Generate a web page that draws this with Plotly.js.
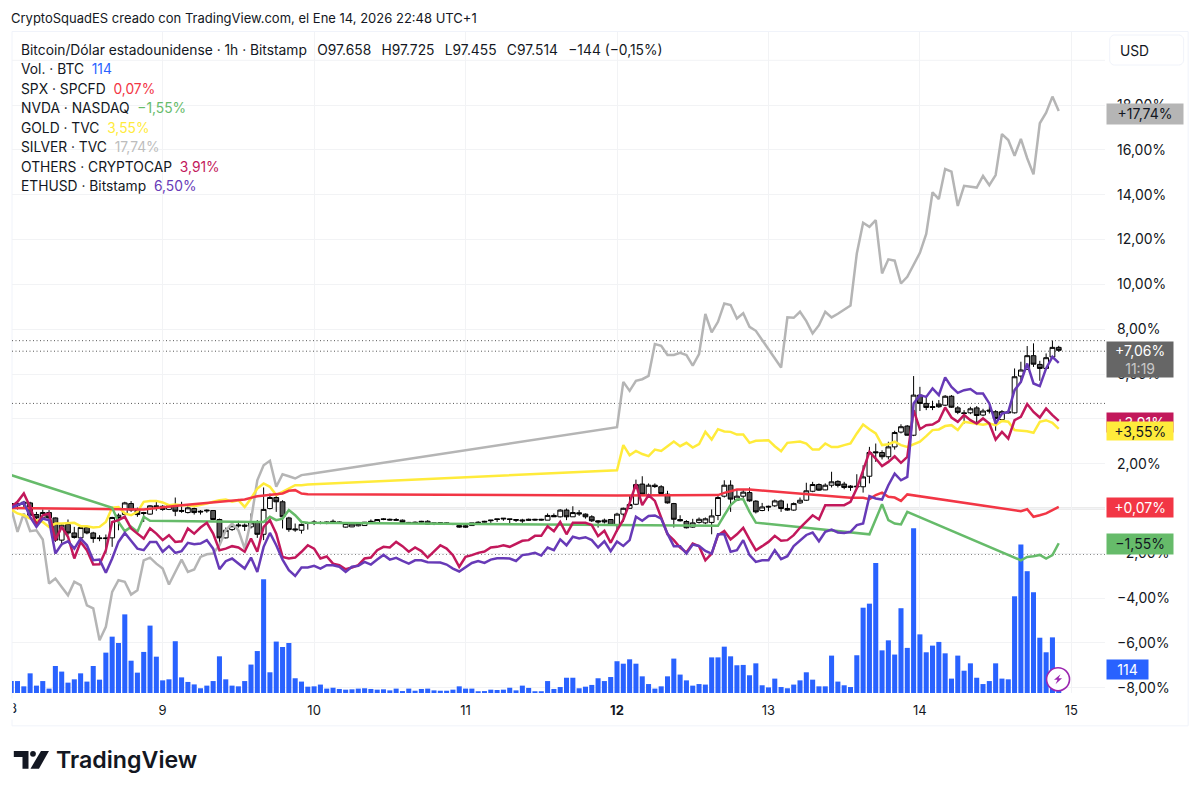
<!DOCTYPE html>
<html><head><meta charset="utf-8">
<script src="https://cdn.plot.ly/plotly-3.0.1.min.js"></script>
<style>html,body{margin:0;padding:0;background:#fff}#c{width:1200px;height:795px}</style>
</head><body><div id="c"></div>
<script>
function seq(a,b){var r=[];for(var i=a;i<=b;i++)r.push(i);return r;}

const dayTicks=[0,24,48,72,96,120,144,168];
const dayLabels=['8','9','10','11','<b>12</b>','13','14','15'];
const pctTicks=[-8,-6,-4,-2,0,2,4,6,8,10,12,14,16,18];
const pctLabels=['−8,00%','−6,00%','−4,00%','−2,00%','','2,00%','4,00%','6,00%','8,00%','10,00%','12,00%','14,00%','16,00%','18,00%'];
const candleHours=seq(0,166);
const volume=[68,68,38,112,42,68,25,154,122,59,78,112,65,154,76,230,321,285,448,184,116,234,384,207,72,78,295,89,63,49,27,42,68,209,78,42,38,68,162,239,648,118,293,262,285,84,65,36,38,
48,25,30,23,19,21,25,27,23,19,21,15,25,11,25,13,23,25,15,13,13,19,38,25,25,10,11,19,17,19,30,15,42,29,10,10,68,23,34,87,87,27,36,46,84,68,91,
181,167,192,167,95,51,25,38,95,196,105,72,42,51,48,203,203,264,209,158,160,101,169,44,32,82,34,27,48,72,118,76,38,38,213,65,44,34,215,486,509,741,243,300,219,483,257,939,334,232,270,291,226,82,213,127,169,87,51,68,169,82,78,551,846,694,574,315,232,317,114];

const candleOpen=[.13,.22,.28,.25,-.27,-.42,-.18,-.42,-1.41,-.71,-1.09,-1.31,-.85,-1.09,-1.31,-1.31,-1.31,-.40,-.27,.22,-.07,-.18,-.25,.12,.10,-.04,.15,-.09,-.18,0,-.12,-.07,-.09,-.49,-1.31,-.94,-.73,-.74,-.82,-.60,-1.15,0,.49,.30,-.42,-.91,-.97,-.64,-.60,
-.62,-.67,-.57,-.60,-.83,-.82,-.77,-.76,-.57,-.62,-.46,-.48,-.49,-.52,-.62,-.61,-.57,-.70,-.64,-.64,-.64,-.68,-.76,-.77,-.76,-.61,-.57,-.51,-.46,-.43,-.46,-.49,-.51,-.48,-.48,-.48,-.52,-.31,-.37,-.07,-.37,-.19,-.25,-.37,-.55,-.52,-.49,
-.74,-.25,.01,.19,1.09,.62,1.04,.97,.64,.22,-.49,-.58,-.83,-.62,-.64,-.62,-.31,.55,1.04,.37,.55,.71,.33,-.09,.10,.12,.34,0,-.07,.25,.37,.77,1.07,.83,1.04,1.21,1.09,.94,1.00,.97,1.44,2.53,2.50,2.31,2.75,3.41,3.68,3.27,5.06,4.69,4.55,4.66,4.61,5.01,4.49,4.27,4.27,4.49,4.17,4.39,4.32,3.97,4.32,4.27,5.91,6.21,6.82,6.43,6.25,6.76,7.19];
const candleHigh=[.27,.37,.34,.30,-.15,-.04,-.07,-.40,-.70,-.49,-.82,-.79,-.79,-1.04,-1.19,-1.16,-.37,-.22,.30,.33,.04,-.15,.15,.33,.15,.15,.49,.30,.10,.04,-.07,-.04,-.07,-.45,-.85,-.74,-.55,-.67,-.22,-.52,.94,.67,.60,.37,-.37,-.67,-.67,-.60,-.52,
-.57,-.57,-.49,-.57,-.66,-.68,-.66,-.60,-.49,-.49,-.43,-.45,-.43,-.49,-.60,-.58,-.55,-.52,-.64,-.62,-.62,-.66,-.67,-.67,-.64,-.57,-.55,-.51,-.46,-.43,-.46,-.49,-.46,-.45,-.46,-.46,-.22,-.22,-.03,0,.10,-.07,-.22,-.30,-.52,-.45,-.49,
-.19,.04,.60,1.29,1.44,1.12,1.12,1.04,.79,.25,-.30,-.52,-.46,-.40,-.40,-.04,.60,1.26,1.26,.85,.85,.94,.37,.25,.13,.40,.40,.22,.27,.49,1.15,1.19,1.12,1.12,1.64,1.26,1.19,1.04,1.53,1.93,2.75,2.90,2.60,2.98,3.47,3.76,3.72,5.91,5.43,4.99,4.81,4.84,5.06,5.06,4.57,4.39,4.54,4.57,4.45,4.57,4.39,4.39,4.39,6.25,6.55,7.25,7.37,6.59,6.92,7.49,7.26];
const candleLow=[.04,-.04,.07,-.45,-.64,-.52,-.45,-1.49,-1.68,-1.19,-1.34,-1.49,-1.15,-1.53,-1.46,-2.01,-1.71,-.97,-.30,-.15,-.37,-.60,-.27,-.10,-.10,-.07,-.34,-.19,-.22,-.27,-.27,-.19,-.52,-1.64,-1.34,-1.00,-.85,-1.00,-.89,-1.31,-1.41,-.04,-.15,-.89,-1.04,-1.04,-1.12,-.94,-.74,
-.70,-.70,-.67,-.67,-.85,-.83,-.80,-.77,-.67,-.64,-.52,-.53,-.55,-.65,-.67,-.65,-.62,-.73,-.74,-.68,-.70,-.74,-.86,-.86,-.77,-.67,-.62,-.64,-.60,-.55,-.67,-.60,-.64,-.55,-.54,-.54,-.52,-.37,-.40,-.52,-.37,-.33,-.45,-.60,-.85,-.67,-.77,
-1.04,-.60,0,.15,.60,.52,.92,.64,.22,-.85,-.58,-.89,-.86,-.67,-.70,-1.15,-.52,.49,-.15,.33,.37,.30,-.22,-.12,-.12,.07,-.15,-.10,-.10,.21,.34,.73,.79,.82,.94,.94,.86,.79,.89,.71,1.12,2.08,2.19,2.19,2.63,3.35,3.26,3.23,4.35,4.39,4.39,4.49,4.57,4.49,4.21,3.79,4.21,3.72,4.12,4.24,3.47,3.91,4.24,4.24,5.61,6.18,6.32,5.70,6.21,6.70,6.99];
const candleClose=[.22,.13,.22,-.30,-.42,-.18,-.42,-1.41,-.74,-1.09,-1.29,-.85,-1.09,-1.34,-1.34,-1.34,-.40,-.30,.25,-.07,-.27,-.22,.12,.07,-.04,.12,-.12,-.12,.03,-.18,-.15,-.10,-.49,-1.31,-.97,-.77,-.77,-.79,-.64,-1.15,-.04,.49,.30,-.37,-.94,-.95,-.71,-.67,-.62,
-.65,-.60,-.60,-.64,-.67,-.70,-.67,-.61,-.60,-.49,-.49,-.51,-.52,-.62,-.65,-.64,-.60,-.57,-.67,-.65,-.67,-.71,-.83,-.83,-.64,-.64,-.60,-.54,-.49,-.46,-.49,-.52,-.55,-.52,-.51,-.51,-.31,-.37,-.07,-.37,-.18,-.24,-.37,-.55,-.60,-.60,-.74,
-.25,.01,.18,1.07,.64,1.04,.98,.67,.25,-.48,-.55,-.86,-.64,-.48,-.46,-.33,.49,1.04,.42,.55,.73,.34,-.15,.07,.07,.34,0,-.07,.22,.37,.79,1.07,.82,1.04,1.19,1.03,.94,1.00,.97,1.41,2.50,2.49,2.31,2.75,3.39,3.65,3.27,5.06,4.69,4.51,4.51,4.54,5.01,4.52,4.29,4.24,4.45,4.15,4.35,4.35,4.02,4.32,4.27,5.88,6.18,6.82,6.44,6.25,6.73,7.19,7.06];

const silverHours=seq(0,47).concat(seq(96,118),seq(122,166));
const silverPct=[0,-1.04,-.22,-1.01,-.97,-1.38,-3.35,-3.12,-3.50,-3.87,-3.27,-3.42,-4.32,-4.46,-5.88,-5.28,-3.72,-3.20,-3.27,-3.84,-3.65,-2.31,-2.19,-2.46,-2.68,-3.39,-2.83,-2.28,-2.83,-2.72,-2.16,-2.04,-2.01,-1.64,-.97,-.67,-.97,-1.79,-.52,1.26,1.93,2.13,.97,1.53,1.44,1.34,1.49,1.53,
3.63,5.65,5.25,5.70,5.77,5.92,7.34,7.26,6.85,6.85,6.95,6.85,6.38,6.89,8.68,7.86,8.33,9.15,9.08,8.48,8.71,8.11,7.93,
6.29,8.53,8.51,8.78,8.36,7.81,8.18,8.78,8.53,8.69,8.88,9.06,11.38,12.75,12.57,12.87,10.49,11.12,11.06,10.04,10.34,10.86,11.41,12.25,14.11,13.81,15.15,15.03,13.50,14.40,14.36,14.32,14.84,14.43,14.88,16.71,16.44,15.74,16.49,15.63,14.91,17.19,17.66,18.38,17.74];

const goldHours=seq(0,47).concat(seq(96,166));
const goldPct=[-.04,-.22,-.30,-.45,-.52,-.60,-.82,-.67,-.67,-.67,-.64,-.79,-.79,-.85,-.82,-.60,.04,.07,-.22,-.30,-.15,.30,.34,.34,.27,.15,.18,.15,.15,.10,.15,.22,.30,.37,.40,.30,.37,.07,.45,.89,1.12,.97,.60,.74,.89,1.04,1.04,1.07,
1.71,2.83,2.38,2.57,2.43,2.34,2.63,2.57,2.78,2.99,2.78,2.93,2.72,2.87,3.42,3.08,3.54,3.44,3.42,3.30,3.30,2.93,3.02,3.05,3.05,2.78,2.56,2.93,2.95,2.99,2.90,2.63,2.63,2.90,2.74,2.75,2.83,2.90,3.35,3.75,3.54,3.35,2.83,2.87,2.98,2.83,2.75,2.86,2.98,3.23,3.50,3.53,3.68,3.72,3.50,3.87,3.82,3.79,3.74,3.79,3.72,3.91,3.87,3.50,3.47,3.45,3.38,3.87,3.94,3.82,3.55];

const spxHours=[0,21,27,37,39,41,43,44,45,46,47,96,112,113,114,115,116,117,133,134,135,136,137,138,139,140,141,142,160,161,162,163,164,165,166];
const spxPct=[.02,-.04,.15,.40,.55,.60,.67,.79,.82,.67,.64,.58,.60,.70,.79,.85,.85,.85,.48,.49,.48,.42,.60,.71,.52,.49,.34,.63,-.12,-.03,-.37,-.30,-.22,-.07,.07];

const nvdaHours=[0,16,17,18,19,20,21,22,39,40,41,42,43,44,45,46,47,112,113,114,115,116,117,118,136,137,138,139,140,141,142,160,161,162,163,164,165,166];
const nvdaPct=[1.49,.03,-.60,-1.01,-.82,-1.04,-.37,-.55,-.60,-.60,-.37,-.52,-.45,-.07,-.30,-.60,-.64,-.77,-.30,.15,.40,.42,-.15,-.63,-1.15,-.45,.19,-.52,-.67,-.71,-.15,-2.31,-2.16,-2.13,-2.07,-2.23,-2.08,-1.55];

const othersPct=[.07,.30,.67,.07,-.74,-.30,-.22,-1.41,-.82,-1.26,-2.23,-1.49,-1.86,-2.50,-2.49,-1.86,-.60,-.52,-.37,-.89,-1.12,-1.34,-.89,-1.12,-1.41,-1.19,-1.49,-1.46,-.89,-1.12,-.85,-.64,-1.12,-1.86,-1.79,-1.68,-1.74,-1.93,-1.34,-1.93,-.82,-.52,-1.12,-2.16,-2.23,-2.19,-1.93,-1.64,-1.79,
-2.23,-2.14,-2.46,-2.53,-2.71,-2.63,-2.53,-2.23,-2.19,-1.86,-1.71,-1.74,-1.49,-1.68,-1.93,-1.74,-1.90,-2.19,-1.93,-1.64,-1.79,-2.08,-2.60,-2.16,-2.08,-1.98,-1.92,-1.74,-1.71,-1.64,-1.71,-1.56,-1.44,-1.41,-1.22,-1.22,-.79,-1.01,-.60,-1.15,-.64,-.64,-.64,-.74,-1.23,-.99,-1.53,
-.97,-.50,.25,1.09,.15,.60,.34,-.37,-1.15,-1.41,-1.74,-1.96,-1.56,-1.68,-2.31,-2.01,-1.19,-1.00,-1.38,-1.15,-.86,-1.38,-1.86,-1.68,-1.49,-1.22,-1.44,-1.41,-1.19,-.86,-.60,-.30,-.49,.15,.15,.15,.15,.30,.90,1.70,2.53,2.23,1.89,2.08,2.33,2.04,2.30,4.39,3.54,3.72,3.75,3.91,4.51,4.06,3.87,4.17,3.94,3.79,4.02,3.79,3.08,3.42,3.12,3.94,4.09,4.66,4.31,4.06,4.46,4.17,3.91];

const ethPct=[.04,.15,.27,-.37,-.82,-.45,-.52,-2.01,-1.59,-1.46,-1.79,-1.34,-1.64,-2.31,-2.28,-2.87,-2.23,-1.49,-1.09,-1.44,-1.79,-1.86,-1.49,-1.49,-1.93,-1.68,-1.98,-1.90,-1.53,-1.59,-1.56,-1.41,-1.79,-2.71,-2.35,-2.23,-2.46,-2.68,-2.19,-2.83,-1.71,-1.09,-1.64,-2.28,-2.75,-3.01,-2.63,-2.63,-2.56,
-2.68,-2.53,-2.53,-2.60,-2.83,-2.60,-2.56,-2.38,-2.50,-2.28,-2.07,-2.28,-2.20,-2.34,-2.46,-2.31,-2.31,-2.40,-2.41,-2.41,-2.50,-2.68,-2.81,-2.60,-2.43,-2.34,-2.43,-2.28,-2.22,-2.22,-2.23,-2.34,-2.08,-2.04,-1.98,-2.10,-1.74,-1.86,-1.38,-1.64,-1.26,-1.34,-1.28,-1.41,-1.74,-1.46,-1.90,
-1.47,-1.67,-1.41,-.37,-.55,-.33,-.31,-.45,-1.12,-1.68,-1.68,-2.01,-1.61,-1.67,-1.89,-2.01,-1.15,-1.15,-1.93,-1.86,-1.41,-2.08,-2.38,-2.31,-2.31,-1.86,-2.26,-2.13,-1.68,-1.41,-1.18,-1.07,-1.46,-1.04,-.94,-1.07,-1.09,-1.04,-.74,-.67,.55,.45,.40,1.04,1.56,1.26,1.41,4.69,5.06,4.98,5.36,5.06,5.85,5.43,5.16,5.28,5.33,5.13,5.13,4.69,3.79,4.24,4.31,5.28,5.65,6.47,5.58,5.46,6.25,6.77,6.50];

const priceLines=[7.49,7.02,4.69,-2.04];
const SP='\u00a0\u00a0\u200a\u200a';
const legendRows=[
 ['Bitcoin/Dólar estadounidense · 1h · Bitstamp'+SP+'O97.658'+SP+'H97.725'+SP+'L97.455'+SP+'C97.514'+SP+'−144 (−0,15%)',''],
 ['Vol. · BTC','114','#2962ff'],
 ['SPX · SPCFD','0,07%','#f23645'],
 ['NVDA · NASDAQ','−1,55%','#66bb6a'],
 ['GOLD · TVC','3,55%','#ffeb3b'],
 ['SILVER · TVC','17,74%','#bdbdbd'],
 ['OTHERS · CRYPTOCAP','3,91%','#c2185b'],
 ['ETHUSD · Bitstamp','6,50%','#673ab7']];

// page geometry in pixels
const W=1200,H=795,L=11.5,R=1105.3,T=32,B=692.7;
const px=x=>(x-L)/(R-L), py=y=>(B-y)/(B-T);
const FONT='Inter, "Noto Sans", sans-serif', INK='#131722';

function line(h,v,c){return {type:'scatter',mode:'lines',x:h,y:v,yaxis:'y2',connectgaps:true,line:{color:c,width:2.5,shape:'linear'},hoverinfo:'skip',showlegend:false};}
const traces=[
 {type:'bar',x:candleHours,y:volume,marker:{color:'#2962ff',line:{width:0}},hoverinfo:'skip',showlegend:false},
 line(silverHours,silverPct,'#b5b5b5'),
 line(goldHours,goldPct,'#ffeb3b'),
 line(spxHours,spxPct,'#f23645'),
 line(nvdaHours,nvdaPct,'#66bb6a'),
 line(candleHours,othersPct,'#c2185b'),
 line(candleHours,ethPct,'#673ab7'),
 {type:'candlestick',x:candleHours,open:candleOpen,high:candleHigh,low:candleLow,close:candleClose,yaxis:'y2',whiskerwidth:0,
  increasing:{line:{color:'#000',width:1},fillcolor:'#fff'},decreasing:{line:{color:'#000',width:1},fillcolor:'#555'},hoverinfo:'skip',showlegend:false}
];

function rect(x0,y0,x1,y1,o){return Object.assign({type:'rect',xref:'paper',yref:'paper',x0:px(x0),x1:px(x1),y0:py(y1),y1:py(y0),line:{width:0}},o);}
function poly(pts,fill){return {type:'path',xref:'paper',yref:'paper',layer:'above',fillcolor:fill,line:{width:0},path:'M'+pts.map(p=>px(p[0]).toFixed(5)+','+py(p[1]).toFixed(5)).join('L')+'Z'};}
function roundBox(x0,y0,x1,y1,r){var pts=[],n=6;[[x1-r,y0+r,-90],[x1-r,y1-r,0],[x0+r,y1-r,90],[x0+r,y0+r,180]].forEach(c=>{for(var i=0;i<=n;i++){var a=(c[2]+i*90/n)*Math.PI/180;pts.push([c[0]+r*Math.cos(a),c[1]+r*Math.sin(a)]);}});return pts;}

const shapes=[
 rect(11.5,31.5,1188.5,725.5,{layer:'below',line:{color:'#f0f3fa',width:1}}),
 {type:'line',xref:'paper',yref:'y2',x0:0,x1:1,y0:20,y1:20,layer:'below',line:{color:'#f2f3f5',width:1}},
 {type:'line',xref:'paper',yref:'y2',x0:0,x1:1,y0:0,y1:0,layer:'below',line:{color:'#b5b5b5',width:1.5}},
 Object.assign(poly(roundBox(1110,35,1184,65,5),'#fff'),{line:{color:'#f0f3fa',width:1}}),
 {type:'circle',xref:'paper',yref:'paper',layer:'above',x0:px(1046.8),x1:px(1069.8),y0:py(690.5),y1:py(667.5),fillcolor:'#fff',line:{color:'#9c27b0',width:1.6}},
 poly([[1060.8,674],[1054.3,679.5],[1057.8,679.5],[1055.8,684],[1062.3,678],[1058.8,678]],'#9c27b0'),
 poly([[13.3,750.7],[28,750.7],[28,768.3],[22,768.3],[22,756.7],[13.3,756.7]],'#131722'),
 poly([[40.5,750.7],[48.5,750.7],[38.5,768.3],[30,768.3]],'#131722'),
 {type:'circle',xref:'paper',yref:'paper',layer:'above',x0:px(29.6),x1:px(35.4),y0:py(756.4),y1:py(750.6),fillcolor:'#131722',line:{width:0}}
].concat(priceLines.map(v=>({type:'line',xref:'paper',yref:'y2',x0:0,x1:1,y0:v,y1:v,layer:'below',line:{color:'#555',width:1,dash:'1px,2.5px'}})));

function txt(t,x,y,o){return Object.assign({text:t,xref:'paper',yref:'paper',x:px(x),y:py(y),xanchor:'left',yanchor:'middle',showarrow:false,align:'left',font:{family:FONT,size:13,color:INK}},o||{});}
function tag(t,x0,y0,x1,y1,bg,c){return {text:t,xref:'paper',yref:'paper',x:px(x0),y:py(y0),xanchor:'left',yanchor:'top',width:x1-x0,height:y1-y0,bgcolor:bg,borderpad:0,showarrow:false,align:'center',valign:'middle',font:{family:FONT,size:14,color:c}};}

const annotations=[
 txt('CryptoSquadES creado con TradingView.com, el Ene 14, 2026 22:48 UTC+1',8.5,18.5),
 txt('TradingView',53.5,760,{font:{family:FONT,size:23.2,color:'#131722',weight:600}}),
 txt('8',6.5,708,{font:{family:FONT,size:13,color:INK}}),
 {text:' ',xref:'paper',yref:'paper',x:px(0),y:py(698),xanchor:'left',yanchor:'top',width:11,height:20,bgcolor:'#fff',borderpad:0,showarrow:false},
 txt('USD',1118,50.5,{font:{family:FONT,size:13.8,color:INK}})
].concat(legendRows.map((r,i)=>txt(r[0]+(r[1]?'\u00a0\u00a0<span style="color:'+r[2]+'">'+r[1]+'</span>':''),19,49.5+i*19.55,{font:{family:FONT,size:13.8,color:INK}})),[
 tag('+17,74%',1106.7,102.7,1182.7,122.3,'#b5b5b5',INK),
 tag('+7,06%<br><span style="color:#c8c8c8">11:19</span>',1106.7,340.7,1173,376,'#666666','#fff'),
 tag('+3,91%',1106.7,411.7,1173,431,'#c2185b','#fff'),
 tag('+3,55%',1106.7,420.7,1173,438.9,'#ffeb3b',INK),
 tag('+0,07%',1106.7,496.7,1173,516,'#f23645','#fff'),
 tag('−1,55%',1106.7,533,1173,552.7,'#66bb6a',INK),
 tag('114',1106.7,659,1147.7,678.3,'#2962ff','#fff')
]);

const layout={
 width:W,height:H,paper_bgcolor:'#fff',plot_bgcolor:'#fff',
 margin:{l:L,r:W-R,t:T,b:H-B,pad:0},
 showlegend:false,bargap:0.2,boxgap:0.16,boxgroupgap:0.1,separators:',.',hovermode:false,
 font:{family:FONT,size:13,color:INK},
 xaxis:{range:[0.127,173.33],tickmode:'array',tickvals:dayTicks,ticktext:dayLabels,showgrid:true,gridcolor:'#f2f3f5',gridwidth:1,zeroline:false,showline:false,ticklen:0,ticklabelstandoff:8,rangeslider:{visible:false},fixedrange:true,tickfont:{family:FONT,size:13,color:INK}},
 yaxis:{range:[0,3766],visible:false,fixedrange:true},
 yaxis2:{overlaying:'y',side:'right',range:[-8.232,21.263],tickmode:'array',tickvals:pctTicks,ticktext:pctLabels,showgrid:true,gridcolor:'#f2f3f5',gridwidth:1,zeroline:false,showline:false,ticklen:0,ticklabelstandoff:11,fixedrange:true,tickfont:{family:FONT,size:14,color:INK}},
 shapes:shapes,annotations:annotations
};
Plotly.newPlot('c',traces,layout,{displayModeBar:false,staticPlot:true});
</script></body></html>
